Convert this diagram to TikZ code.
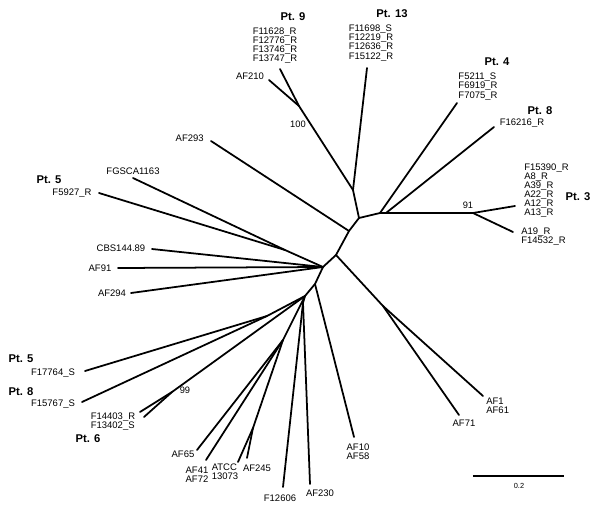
\documentclass[tikz,border=0pt]{standalone}
\usepackage{fontspec}
\setmainfont{Liberation Sans}
\usetikzlibrary{positioning}
\tikzset{
  branch/.style={line width=1pt,line cap=round},
  taxon/.style={font=\fontsize{5.4}{5.2}\selectfont,inner sep=0pt,align=left},
  patient/.style={font=\fontsize{6.4}{7}\selectfont\bfseries,inner sep=0pt},
  bootval/.style={font=\fontsize{5.3}{6}\selectfont,inner sep=0pt}
}

\begin{document}
\begin{tikzpicture}[x=0.02cm,y=-0.02cm]
  \useasboundingbox (0,0) rectangle (600,511);

  % backbone
  \coordinate (ca) at (359,218);
  \coordinate (ce) at (349,231);
  \coordinate (ck) at (336,255);
  \coordinate (cf) at (323,267);
  \coordinate (cl) at (315,284);
  \coordinate (cm) at (305,296);
  % upper clades
  \coordinate (cc) at (353,190);
  \coordinate (cd) at (299,106);
  \coordinate (tAFtwoten) at (269,80);
  \coordinate (tnine) at (280,69);
  \coordinate (tthirteen) at (367,68);
  % right clades
  \coordinate (cb) at (380,213);
  \coordinate (cbb) at (386,213);
  \coordinate (cninetyone) at (473,213);
  \coordinate (tfour) at (457,103);
  \coordinate (teight) at (494,127);
  \coordinate (tthreea) at (515,206);
  \coordinate (tthreeb) at (513,232);
  % left clades
  \coordinate (tAFtwoninethree) at (211,141);
  \coordinate (cg) at (285,250);
  \coordinate (tFGSCA) at (133,178);
  \coordinate (tFfive) at (99,193);
  \coordinate (tCBS) at (152,249);
  \coordinate (tAFninetyone) at (118,268);
  \coordinate (tAFtwoninefour) at (131,293);
  % lower right
  \coordinate (cj) at (383,306);
  \coordinate (tAFone) at (483,396);
  \coordinate (tAFseventyone) at (459,415);
  \coordinate (tAFten) at (354,437);
  % lower left
  \coordinate (cn) at (267,316);
  \coordinate (tFseventeen) at (85,371);
  \coordinate (tFfifteen) at (82,402);
  \coordinate (cq) at (172,392);
  \coordinate (tFfourteen) at (140,412);
  \coordinate (tFthirteen) at (144,417);
  \coordinate (cp) at (283,340);
  \coordinate (tAFsixtyfive) at (197,450);
  \coordinate (tAFfortyone) at (206,460);
  \coordinate (cs) at (253,428);
  \coordinate (tATCC) at (238,462);
  \coordinate (tAFtwofortyfive) at (247,458);
  \coordinate (ct) at (303,303);
  \coordinate (tFtwelve) at (283,487);
  \coordinate (tAFtwothirty) at (310,484);

  % branches
  \draw[branch] (ca) -- (ce) -- (ck) -- (cf) -- (cl) -- (cm);
  \draw[branch] (ca) -- (cc) -- (cd) -- (tAFtwoten);
  \draw[branch] (cd) -- (tnine);
  \draw[branch] (cc) -- (tthirteen);
  \draw[branch] (ca) -- (cb) -- (cbb) -- (cninetyone) -- (tthreea);
  \draw[branch] (cninetyone) -- (tthreeb);
  \draw[branch] (cb) -- (tfour);
  \draw[branch] (cbb) -- (teight);
  \draw[branch] (ce) -- (tAFtwoninethree);
  \draw[branch] (cf) -- (cg) -- (tFGSCA);
  \draw[branch] (cg) -- (tFfive);
  \draw[branch] (cf) -- (tCBS);
  \draw[branch] (cf) -- (tAFninetyone);
  \draw[branch] (cf) -- (tAFtwoninefour);
  \draw[branch] (ck) -- (cj) -- (tAFone);
  \draw[branch] (cj) -- (tAFseventyone);
  \draw[branch] (cl) -- (tAFten);
  \draw[branch] (cm) -- (cn) -- (tFseventeen);
  \draw[branch] (cn) -- (tFfifteen);
  \draw[branch] (cm) -- (cq) -- (tFfourteen);
  \draw[branch] (cq) -- (tFthirteen);
  \draw[branch] (cm) -- (cp) -- (tAFsixtyfive);
  \draw[branch] (cp) -- (tAFfortyone);
  \draw[branch] (cp) -- (cs) -- (tATCC);
  \draw[branch] (cs) -- (tAFtwofortyfive);
  \draw[branch] (cm) -- (ct) -- (tFtwelve);
  \draw[branch] (ct) -- (tAFtwothirty);

  % patient labels
  \node[patient] (ptnine) at (293,17) {Pt. 9};
  \node[patient] (ptthirteen) at (392,14) {Pt. 13};
  \node[patient] (ptfour) at (497,62) {Pt. 4};
  \node[patient] (pteighta) at (540,111) {Pt. 8};
  \node[patient] (ptthree) at (578,197) {Pt. 3};
  \node[patient] (ptfivea) at (49,180) {Pt. 5};
  \node[patient] (ptfiveb) at (21,359) {Pt. 5};
  \node[patient] (pteightb) at (21,392) {Pt. 8};
  \node[patient] (ptsix) at (88,439) {Pt. 6};

  % taxa
  \node[taxon] (lnine) at (275,45.5) {F11628\_R\\F12776\_R\\F13746\_R\\F13747\_R};
  \node[taxon] (lthirteen) at (371,43) {F11698\_S\\F12219\_R\\F12636\_R\\F15122\_R};
  \node[taxon] (lAFtwoten) at (250,76) {AF210};
  \node[taxon] (lfour) at (478,86.5) {F5211\_S\\F6919\_R\\F7075\_R};
  \node[taxon] (leight) at (522,123) {F16216\_R};
  \node[taxon,anchor=west] (lthreea) at (524,190.5) {F15390\_R\\A8\_R\\A39\_R\\A22\_R\\A12\_R\\A13\_R};
  \node[taxon,anchor=west] (lthreeb) at (521,236.5) {A19\_R\\F14532\_R};
  \node[taxon,anchor=east] (lAFtwoninethree) at (204,138) {AF293};
  \node[taxon] (lFGSCA) at (133,171) {FGSCA1163};
  \node[taxon] (lFfive) at (72,193) {F5927\_R};
  \node[taxon] (lCBS) at (121,248) {CBS144.89};
  \node[taxon] (lAFninetyone) at (100,268) {AF91};
  \node[taxon] (lAFtwoninefour) at (112,293) {AF294};
  \node[taxon] (lFseventeen) at (53,373) {F17764\_S};
  \node[taxon] (lFfifteen) at (53,404) {F15767\_S};
  \node[taxon] (lFfourteen) at (113,421.5) {F14403\_R\\F13402\_S};
  \node[taxon] (lAFsixtyfive) at (183,454) {AF65};
  \node[taxon] (lAFfortyone) at (197,475) {AF41\\AF72};
  \node[taxon] (lATCC) at (225,472) {ATCC\\13073};
  \node[taxon] (lAFtwofortyfive) at (257,468) {AF245};
  \node[taxon] (lFtwelve) at (280,498) {F12606};
  \node[taxon] (lAFtwothirty) at (320,493) {AF230};
  \node[taxon] (lAFten) at (358,451.5) {AF10\\AF58};
  \node[taxon,anchor=west] (lAFone) at (486,406) {AF1\\AF61};
  \node[taxon] (lAFseventyone) at (464,423) {AF71};

  % bootstrap values
  \node[bootval] (bhundred) at (298,124) {100};
  \node[bootval] (bninetyone) at (468,205) {91};
  \node[bootval] (bninetynine) at (185,390) {99};

  % scale bar
  \coordinate (sbl) at (473,476);
  \coordinate (sbr) at (564,476);
  \draw[line width=1.5pt] (sbl) -- (sbr);
  \node[font=\fontsize{4.2}{5}\selectfont,inner sep=0pt] (sblabel) at (519,486) {0.2};
\end{tikzpicture}
\end{document}
